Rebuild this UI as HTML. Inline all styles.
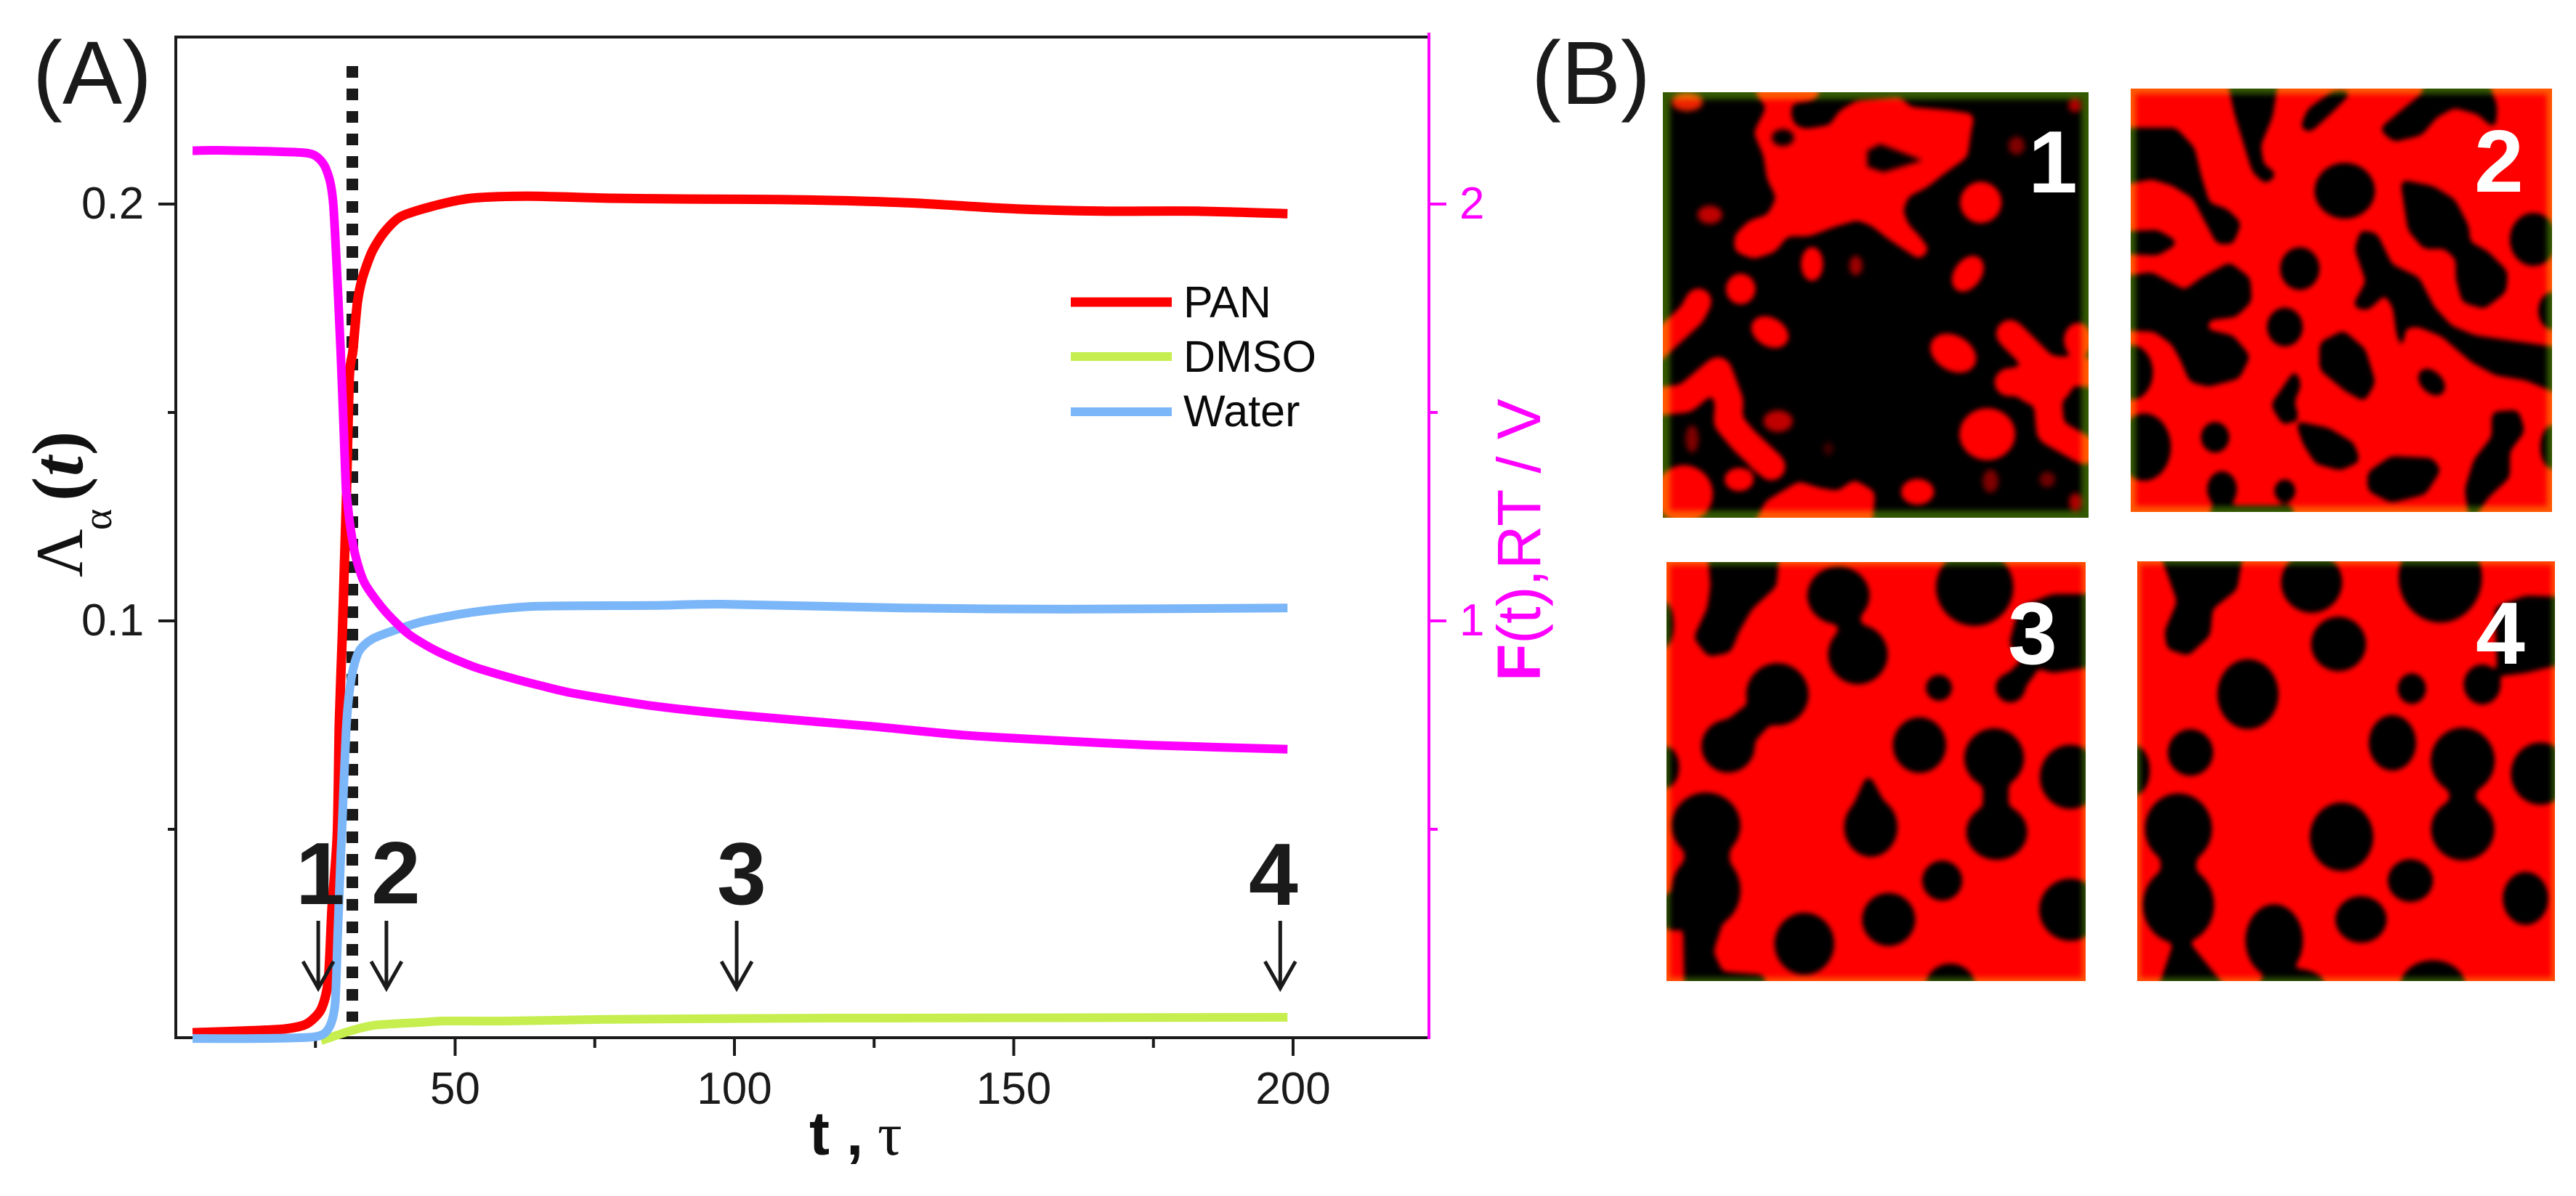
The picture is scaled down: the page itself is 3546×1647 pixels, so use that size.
<!DOCTYPE html>
<html lang="en">
<head>
<meta charset="utf-8">
<title>Lambda and free energy over time with morphology snapshots</title>
<style>
html,body{margin:0;padding:0;background:#fff;}
svg{display:block;}
text{font-family:"Liberation Sans",sans-serif;}
.serif{font-family:"Liberation Serif",serif;}
.tick{font-size:62px;fill:#1a1a1a;}
.tickm{font-size:62px;fill:#ff00ff;}
.num{font-size:122px;font-weight:bold;fill:#1a1a1a;}
.pnum{font-size:122px;font-weight:bold;fill:#fff;}
.leg{font-size:61px;fill:#0a0a0a;}
</style>
</head>
<body>
<svg id="figure" xmlns="http://www.w3.org/2000/svg" width="3546" height="1647" viewBox="0 0 3546 1647">
<defs>
<filter id="goo" filterUnits="userSpaceOnUse" x="-200" y="-200" width="2000" height="2000" color-interpolation-filters="sRGB">
<feGaussianBlur in="SourceGraphic" stdDeviation="11"/>
<feComponentTransfer><feFuncA type="linear" slope="5" intercept="-1.2"/></feComponentTransfer>
<feGaussianBlur stdDeviation="8"/>
</filter>
<filter id="soft" filterUnits="userSpaceOnUse" x="-200" y="-200" width="2000" height="2000" color-interpolation-filters="sRGB">
<feGaussianBlur stdDeviation="9"/>
</filter>
</defs>
<rect width="3546" height="1647" fill="#fff"/>

<text x="45" y="143" font-size="123" fill="#1a1a1a">(A)</text>
<text x="2108" y="143" font-size="123" fill="#1a1a1a">(B)</text>

<g id="axes">
<line x1="240" y1="51" x2="1967" y2="51" stroke="#1a1a1a" stroke-width="4"/>
<line x1="242" y1="49" x2="242" y2="1431" stroke="#1a1a1a" stroke-width="4"/>
<line x1="240" y1="1429" x2="1967" y2="1429" stroke="#1a1a1a" stroke-width="4"/>
<line x1="1967" y1="45" x2="1967" y2="1431" stroke="#ff00ff" stroke-width="4"/>
</g>
<g id="ticks"></g>
<g id="series"></g>
<g id="arrows"></g>

<text class="num" x="407" y="1245">1</text>
<text class="num" x="511" y="1244">2</text>
<text class="num" x="987" y="1245">3</text>
<text class="num" x="1719" y="1246">4</text>

<g>
<line x1="1474" y1="416" x2="1613" y2="416" stroke="#ff0000" stroke-width="13"/>
<text class="leg" x="1629" y="437">PAN</text>
<line x1="1474" y1="491" x2="1613" y2="491" stroke="#c6ee4e" stroke-width="12"/>
<text class="leg" x="1629" y="512">DMSO</text>
<line x1="1474" y1="567" x2="1613" y2="567" stroke="#7ab6f8" stroke-width="12"/>
<text class="leg" x="1629" y="587">Water</text>
</g>

<text class="serif" transform="rotate(-90)" fill="#111"><tspan x="-795" y="113" font-size="92">Λ</tspan><tspan x="-730" y="153" font-size="56">α</tspan><tspan x="-690" y="113" font-size="100" font-weight="bold">(</tspan><tspan x="-656" y="113" font-size="100" font-weight="bold" font-style="italic">t</tspan><tspan x="-627" y="113" font-size="100" font-weight="bold">)</tspan></text>
<text transform="translate(2120,938) rotate(-90)" font-size="84" fill="#ff00ff"><tspan font-weight="bold">F</tspan>(t),RT / V</text>
<text font-size="84" font-weight="bold" fill="#111"><tspan x="1114" y="1590">t</tspan><tspan x="1165" y="1590">,</tspan><tspan class="serif" x="1208" y="1590" font-weight="normal">τ</tspan></text>

<!-- Panel 1 -->
<svg x="2289" y="127" width="586" height="586" viewBox="200 105 1312 1313" preserveAspectRatio="none">
<rect x="100" y="0" width="1600" height="1600" fill="#000"/>
<g filter="url(#goo)" fill="#ff0000" stroke="#ff0000" stroke-linejoin="round">
<polygon stroke-width="10" points="490,100 680,100 660,122 590,132 585,175 600,215 640,228 720,215 750,170 800,140 930,130 960,160 1080,170 1150,180 1140,230 1130,300 1060,350 1010,390 950,420 930,470 950,520 980,550 1010,590 990,610 960,590 900,550 850,510 800,490 730,510 650,540 580,540 540,590 480,610 430,590 430,550 470,510 530,490 560,430 530,370 520,300 490,230 530,150"/>
<ellipse cx="1180" cy="445" rx="60" ry="60" stroke="none"/>
<ellipse cx="660" cy="635" rx="30" ry="50" stroke="none"/>
<ellipse cx="1140" cy="665" rx="38" ry="58" transform="rotate(35 1140 665)" stroke="none"/>
<ellipse cx="440" cy="712" rx="42" ry="44" stroke="none"/>
<ellipse cx="530" cy="845" rx="58" ry="40" transform="rotate(30 530 845)" stroke="none"/>
<ellipse cx="1095" cy="910" rx="72" ry="50" transform="rotate(30 1095 910)" stroke="none"/>
<ellipse cx="1200" cy="1160" rx="82" ry="76" stroke="none"/>
<ellipse cx="435" cy="1300" rx="42" ry="32" stroke="none"/>
<ellipse cx="985" cy="1338" rx="48" ry="36" stroke="none"/>
<ellipse cx="265" cy="1345" rx="85" ry="85" stroke="none"/>
<polyline fill="none" stroke-width="72" stroke-linecap="round" points="310,750 290,790 170,900"/>
<polyline fill="none" stroke-width="78" stroke-linecap="round" points="170,1060 270,1050 370,965 405,1060 400,1120 450,1180 535,1260"/>
<polygon stroke="none" points="480,1450 520,1370 620,1310 680,1330 740,1340 790,1305 850,1340 840,1450"/>
<polyline fill="none" stroke-width="78" stroke-linecap="round" points="1270,850 1380,960 1560,975"/>
<polyline fill="none" stroke-width="78" stroke-linecap="round" points="1265,1000 1380,990 1395,1150 1500,1210"/>
<ellipse cx="1370" cy="1000" rx="90" ry="70" stroke="none"/>
<ellipse cx="1480" cy="870" rx="40" ry="50" stroke="none"/>
</g>
<g filter="url(#soft)" fill="#000">
<ellipse cx="570" cy="245" rx="34" ry="26"/>
<polygon points="830,285 870,265 1000,315 880,352 830,335"/>
</g>
<g filter="url(#soft)">
<ellipse cx="275" cy="135" rx="48" ry="28" fill="#ee2200"/>
<ellipse cx="345" cy="483" rx="38" ry="28" fill="#c00000"/>
<ellipse cx="795" cy="640" rx="20" ry="30" fill="#a00000"/>
<ellipse cx="1290" cy="270" rx="25" ry="28" fill="#800000"/>
<ellipse cx="555" cy="1120" rx="45" ry="33" fill="#c00000"/>
<ellipse cx="290" cy="1175" rx="20" ry="42" fill="#800000"/>
<ellipse cx="710" cy="1205" rx="16" ry="20" fill="#400000"/>
<ellipse cx="1210" cy="1305" rx="24" ry="36" fill="#800000"/>
<ellipse cx="1385" cy="1300" rx="24" ry="24" fill="#700000"/>
<ellipse cx="1472" cy="1370" rx="20" ry="28" fill="#b00000"/>
<ellipse cx="1470" cy="145" rx="20" ry="22" fill="#b00000"/>
</g>
<rect x="200" y="105" width="1312" height="1313" fill="none" stroke="#345a00" stroke-width="44" filter="url(#soft)" style="mix-blend-mode:screen"/>
</svg>
<text class="pnum" x="2792" y="265">1</text>

<!-- Panel 2 -->
<svg x="2933" y="122" width="580" height="583" viewBox="80 95 1407 1305" preserveAspectRatio="none">
<rect x="0" y="0" width="1600" height="1600" fill="#ff0000"/>
<g filter="url(#goo)" fill="#000">
<polygon points="40,220 230,220 290,280 310,360 340,450 400,470 445,510 420,570 370,570 330,500 290,430 220,390 150,370 40,390"/>
<polygon points="405,60 570,60 550,180 510,270 520,330 565,360 530,385 490,350 460,260 430,170"/>
<polygon points="650,215 675,160 760,105 815,105 745,170 680,225"/>
<polygon points="915,220 980,170 1060,110 1060,60 1265,60 1300,150 1295,215 1240,170 1160,150 1100,180 1050,235 960,255"/>
<ellipse cx="795" cy="410" rx="97" ry="82"/>
<polygon points="985,380 1090,400 1160,440 1205,520 1210,570 1270,600 1335,660 1330,720 1260,770 1190,750 1170,680 1170,620 1130,585 1060,585 1010,530"/>
<ellipse cx="1425" cy="560" rx="75" ry="78"/>
<ellipse cx="1490" cy="780" rx="45" ry="55"/>
<polygon points="40,540 170,535 235,570 170,605 40,600"/>
<ellipse cx="645" cy="650" rx="62" ry="62"/>
<ellipse cx="595" cy="830" rx="56" ry="56"/>
<polygon points="40,680 150,665 220,700 260,720 320,680 410,635 475,680 480,750 430,795 340,805 330,840 420,860 475,920 440,985 340,1010 280,995 250,930 220,880 160,840 40,835"/>
<ellipse cx="85" cy="970" rx="65" ry="80"/>
<polygon points="715,880 790,845 860,900 893,1000 860,1055 800,1025 715,960"/>
<polygon points="850,535 900,545 950,640 1040,680 1090,770 1150,830 1230,860 1530,900 1530,1040 1400,990 1300,975 1220,935 1120,855 1040,825 995,830 985,905 970,840 960,770 930,725 870,775 825,765 870,690 832,590"/>
<ellipse cx="1085" cy="1000" rx="48" ry="30" transform="rotate(38 1085 1000)"/>
<ellipse cx="125" cy="1200" rx="85" ry="100"/>
<ellipse cx="362" cy="1170" rx="44" ry="44"/>
<ellipse cx="385" cy="1330" rx="46" ry="52"/>
<polygon points="350,1385 620,1385 620,1430 350,1430"/>
<ellipse cx="595" cy="1335" rx="32" ry="32"/>
<polygon points="630,965 645,1010 622,1060 638,1112 590,1128 552,1070 590,1020"/>
<polygon points="635,1125 740,1145 822,1190 842,1242 780,1268 700,1248 660,1190"/>
<polygon points="875,1280 950,1232 1085,1238 1112,1270 1062,1342 950,1368 875,1332"/>
<polygon points="1290,1095 1372,1090 1392,1150 1342,1212 1342,1292 1272,1352 1215,1430 1200,1330 1230,1240 1290,1170"/>
<ellipse cx="1490" cy="1200" rx="38" ry="65"/>
</g>
<rect x="80" y="95" width="1407" height="1305" fill="none" stroke="#345a00" stroke-width="34" filter="url(#soft)" style="mix-blend-mode:screen"/>
</svg>
<text class="pnum" x="3406" y="264">2</text>

<!-- Panel 3 -->
<svg x="2294" y="774" width="577" height="577" viewBox="210 -13 1292 1293" preserveAspectRatio="none">
<rect x="100" y="-100" width="1600" height="1600" fill="#ff0000"/>
<g filter="url(#goo)" fill="#000">
<polygon points="340,-60 555,-60 545,60 470,130 430,200 405,262 340,275 298,220 340,130 350,60"/>
<ellipse cx="740" cy="90" rx="92" ry="85"/>
<ellipse cx="800" cy="272" rx="88" ry="88"/>
<polygon points="735,150 800,150 815,220 750,220"/>
<ellipse cx="1160" cy="65" rx="115" ry="115"/>
<polygon points="1300,130 1400,90 1560,90 1560,300 1400,325 1320,300 1270,240"/>
<ellipse cx="1270" cy="375" rx="42" ry="42"/>
<polygon points="1240,360 1320,280 1350,320 1290,400"/>
<ellipse cx="1050" cy="375" rx="37" ry="37"/>
<ellipse cx="552" cy="395" rx="92" ry="92"/>
<ellipse cx="400" cy="555" rx="78" ry="78"/>
<polygon points="460,430 540,470 450,570 370,500"/>
<ellipse cx="990" cy="552" rx="78" ry="82"/>
<ellipse cx="1220" cy="592" rx="88" ry="88"/>
<ellipse cx="1228" cy="820" rx="90" ry="82"/>
<rect x="1190" y="630" width="70" height="140"/>
<ellipse cx="1455" cy="650" rx="90" ry="95"/>
<ellipse cx="840" cy="805" rx="78" ry="88"/>
<polygon points="832,645 775,770 900,770"/>
<ellipse cx="332" cy="800" rx="102" ry="98"/>
<ellipse cx="332" cy="1000" rx="102" ry="112"/>
<rect x="270" y="860" width="130" height="90"/>
<polygon points="265,1080 385,1080 350,1190 380,1255 510,1265 510,1320 270,1320"/>
<ellipse cx="235" cy="1065" rx="55" ry="55"/>
<ellipse cx="1060" cy="970" rx="58" ry="58"/>
<ellipse cx="895" cy="1090" rx="78" ry="78"/>
<ellipse cx="635" cy="1165" rx="88" ry="92"/>
<ellipse cx="1455" cy="1060" rx="92" ry="92"/>
<ellipse cx="1085" cy="1295" rx="72" ry="65"/>
<ellipse cx="205" cy="620" rx="40" ry="62"/>
<ellipse cx="200" cy="180" rx="28" ry="70"/>
</g>
<rect x="210" y="-13" width="1292" height="1293" fill="none" stroke="#345a00" stroke-width="20" filter="url(#soft)" style="mix-blend-mode:screen"/>
</svg>
<text class="pnum" x="2764" y="914">3</text>

<!-- Panel 4 -->
<svg x="2942" y="773" width="575" height="578" viewBox="102 -15 1396 1295" preserveAspectRatio="none">
<rect x="0" y="-100" width="1600" height="1600" fill="#ff0000"/>
<g filter="url(#goo)" fill="#000">
<polygon points="175,-60 455,-60 432,70 350,130 342,212 272,272 205,252 198,200 240,110"/>
<ellipse cx="685" cy="50" rx="98" ry="90"/>
<ellipse cx="775" cy="240" rx="88" ry="80"/>
<ellipse cx="1115" cy="35" rx="135" ry="135"/>
<polygon points="1300,130 1400,95 1560,100 1560,290 1400,325 1310,335"/>
<ellipse cx="1255" cy="365" rx="58" ry="58"/>
<ellipse cx="472" cy="395" rx="98" ry="104"/>
<ellipse cx="280" cy="575" rx="72" ry="68"/>
<ellipse cx="1020" cy="378" rx="44" ry="44"/>
<ellipse cx="955" cy="545" rx="75" ry="82"/>
<ellipse cx="1190" cy="600" rx="103" ry="98"/>
<ellipse cx="1190" cy="812" rx="102" ry="92"/>
<rect x="1150" y="640" width="80" height="130"/>
<ellipse cx="1450" cy="640" rx="95" ry="92"/>
<ellipse cx="785" cy="835" rx="102" ry="102"/>
<ellipse cx="240" cy="810" rx="108" ry="105"/>
<ellipse cx="240" cy="1045" rx="115" ry="115"/>
<rect x="185" y="870" width="110" height="110"/>
<ellipse cx="1015" cy="970" rx="72" ry="62"/>
<ellipse cx="850" cy="1090" rx="82" ry="68"/>
<ellipse cx="560" cy="1155" rx="92" ry="108"/>
<ellipse cx="1400" cy="1025" rx="72" ry="78"/>
<ellipse cx="1090" cy="1295" rx="105" ry="75"/>
<polygon points="170,1320 232,1150 262,1150 410,1320"/>
<ellipse cx="620" cy="1290" rx="105" ry="45"/>
<ellipse cx="90" cy="630" rx="50" ry="75"/>
</g>
<rect x="102" y="-15" width="1396" height="1295" fill="none" stroke="#345a00" stroke-width="20" filter="url(#soft)" style="mix-blend-mode:screen"/>
</svg>
<text class="pnum" x="3408" y="914">4</text>
</svg>

<script>
const xTicksMajor = [50, 100, 150, 200];
const xTicksMinor = [25, 75, 125, 175];
const yLeftTicksMajor = [0.1, 0.2];
const yLeftTicksMinor = [0.05, 0.15];
const yRightTicksMajor = [1, 2];
const yRightTicksMinor = [0.5, 1.5];

const panTime = [3, 13.9, 19.5, 23.4, 26, 27.3, 27.96, 28.9, 29.26, 29.78, 30.17, 30.56, 31.07, 31.7, 32.5, 33.4, 35.1, 37.3, 40.3, 46, 52.9, 62.9, 77.9, 92, 107.7, 120, 132.8, 149.3, 165.9, 182.5, 199];
const panValues = [0.0012, 0.0017, 0.0021, 0.0033, 0.0068, 0.0138, 0.0312, 0.0486, 0.0753, 0.0956, 0.1131, 0.1305, 0.1584, 0.1648, 0.1763, 0.1822, 0.1885, 0.1932, 0.197, 0.1995, 0.2014, 0.2019, 0.2014, 0.2012, 0.2011, 0.2008, 0.2002, 0.1989, 0.1983, 0.1983, 0.1977];

const dmsoTime = [26, 31.2, 35.6, 44.2, 48, 59.4, 77.9, 117.7, 124.5, 199];
const dmsoValues = [-0.0007, 0.0016, 0.003, 0.0037, 0.004, 0.004, 0.0044, 0.0047, 0.0047, 0.0049];

const waterTime = [3, 13.9, 24.7, 27.3, 28.5, 29, 29.5, 29.7, 30.56, 31.5, 32.8, 35.1, 39.5, 44.7, 53.3, 64.6, 86, 97.8, 130.2, 159.6, 199];
const waterValues = [-0.0002, -0.0002, 0.0002, 0.0021, 0.008, 0.0254, 0.0429, 0.0486, 0.0753, 0.0869, 0.0927, 0.0956, 0.0979, 0.1, 0.1021, 0.1035, 0.1037, 0.104, 0.1031, 0.1028, 0.1031];

const forceTime = [3, 7.4, 20.4, 24.7, 26.9, 28.2, 29.5, 30.4, 30.56, 31.2, 32.1, 33.8, 37.3, 41.6, 46.8, 53.3, 59.8, 64.6, 71.3, 85.4, 100.6, 124.5, 141, 157.6, 174.3, 199];
const forceValues = [2.128, 2.129, 2.125, 2.118, 2.084, 1.997, 1.648, 1.334, 1.305, 1.23, 1.16, 1.091, 1.026, 0.969, 0.927, 0.89, 0.864, 0.847, 0.826, 0.796, 0.774, 0.747, 0.726, 0.713, 0.702, 0.692];

const stageTimes = [25.5, 37.7, 100.4, 197.7];
const dropTime = 31.6;

const SVGNS = 'http://www.w3.org/2000/svg';
function xScale(t) { return 242 + t * 7.69; }
function yLeft(v) { return 1429 - v * 5740; }
function yRight(v) { return 1429 - v * 574; }

function make(tag, parent, attrs) {
  const el = document.createElementNS(SVGNS, tag);
  for (const k in attrs) el.setAttribute(k, attrs[k]);
  parent.appendChild(el);
  return el;
}

function smoothPath(xs, ys) {
  const px = i => xs[Math.max(0, Math.min(xs.length - 1, i))];
  const py = i => ys[Math.max(0, Math.min(ys.length - 1, i))];
  let d = 'M' + xs[0].toFixed(1) + ' ' + ys[0].toFixed(1);
  for (let i = 0; i < xs.length - 1; i++) {
    const c1x = px(i) + (px(i + 1) - px(i - 1)) / 8;
    const c1y = py(i) + (py(i + 1) - py(i - 1)) / 8;
    const c2x = px(i + 1) - (px(i + 2) - px(i)) / 8;
    const c2y = py(i + 1) - (py(i + 2) - py(i)) / 8;
    d += 'C' + c1x.toFixed(1) + ' ' + c1y.toFixed(1) + ' ' + c2x.toFixed(1) + ' ' + c2y.toFixed(1) + ' ' + xs[i + 1].toFixed(1) + ' ' + ys[i + 1].toFixed(1);
  }
  return d;
}

const tickLayer = document.getElementById('ticks');
const seriesLayer = document.getElementById('series');
const arrowLayer = document.getElementById('arrows');

xTicksMajor.forEach(function (t) {
  const tick = make('line', tickLayer, { x1: xScale(t), x2: xScale(t), y1: 1429, y2: 1454, stroke: '#1a1a1a', 'stroke-width': 4 });
  
  
  const label = make('text', tickLayer, { x: xScale(t), y: 1520, 'text-anchor': 'middle', class: 'tick' });
  
  
  label.textContent = String(t);
});
xTicksMinor.forEach(function (t) {
  const tick = make('line', tickLayer, { x1: xScale(t), x2: xScale(t), y1: 1429, y2: 1443, stroke: '#1a1a1a', 'stroke-width': 4 });
  
  
});
yLeftTicksMajor.forEach(function (v) {
  const tick = make('line', tickLayer, { x1: 218, x2: 242, y1: yLeft(v), y2: yLeft(v), stroke: '#1a1a1a', 'stroke-width': 4 });
  
  
  const label = make('text', tickLayer, { x: 112, y: yLeft(v) + 20, class: 'tick' });
  
  
  label.textContent = v.toFixed(1);
});
yLeftTicksMinor.forEach(function (v) {
  const tick = make('line', tickLayer, { x1: 231, x2: 242, y1: yLeft(v), y2: yLeft(v), stroke: '#1a1a1a', 'stroke-width': 4 });
  
  
});
yRightTicksMajor.forEach(function (v) {
  const tick = make('line', tickLayer, { x1: 1967, x2: 1991, y1: yRight(v), y2: yRight(v), stroke: '#ff00ff', 'stroke-width': 4 });
  
  
  const label = make('text', tickLayer, { x: 2009, y: yRight(v) + 20, class: 'tickm' });
  
  
  label.textContent = String(v);
});
yRightTicksMinor.forEach(function (v) {
  const tick = make('line', tickLayer, { x1: 1967, x2: 1979, y1: yRight(v), y2: yRight(v), stroke: '#ff00ff', 'stroke-width': 4 });
  
  
});

const dropLine = make('line', seriesLayer, { x1: xScale(dropTime), x2: xScale(dropTime), y1: 91, y2: 1407, stroke: '#1a1a1a', 'stroke-width': 16, 'stroke-dasharray': '16 15' });



const panLine = make('path', seriesLayer, { d: smoothPath(panTime.map(xScale), panValues.map(yLeft)), fill: 'none', stroke: '#ff0000', 'stroke-width': 13, 'stroke-linejoin': 'round' });



const dmsoLine = make('path', seriesLayer, { d: smoothPath(dmsoTime.map(xScale), dmsoValues.map(yLeft)), fill: 'none', stroke: '#c6ee4e', 'stroke-width': 12, 'stroke-linejoin': 'round' });



const waterLine = make('path', seriesLayer, { d: smoothPath(waterTime.map(xScale), waterValues.map(yLeft)), fill: 'none', stroke: '#7ab6f8', 'stroke-width': 12, 'stroke-linejoin': 'round' });



const forceLine = make('path', seriesLayer, { d: smoothPath(forceTime.map(xScale), forceValues.map(yRight)), fill: 'none', stroke: '#ff00ff', 'stroke-width': 12, 'stroke-linejoin': 'round' });



stageTimes.forEach(function (t) {
  const x = xScale(t);
  const arrow = make('path', arrowLayer, { d: 'M' + x + ' 1268V1361M' + (x - 21) + ' 1324L' + x + ' 1361L' + (x + 21) + ' 1324', fill: 'none', stroke: '#1a1a1a', 'stroke-width': 5 });
  
  
});
</script>
</body>
</html>
